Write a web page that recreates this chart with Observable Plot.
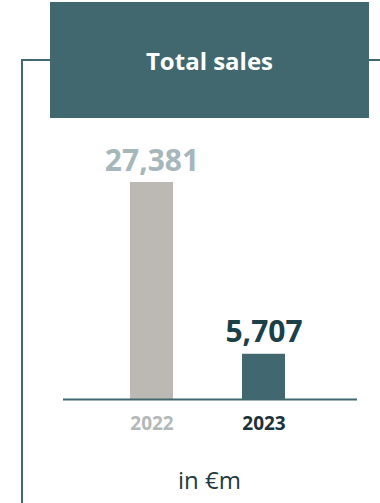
<!DOCTYPE html>
<html>
<head>
<meta charset="utf-8">
<script src="https://cdn.jsdelivr.net/npm/d3@7"></script>
<script src="https://cdn.jsdelivr.net/npm/@observablehq/plot@0.6"></script>
<style>
  html, body { margin: 0; padding: 0; background: #fff; }
  #wrap { position: relative; width: 380px; height: 503px; overflow: hidden; font-family: "Open Sans", sans-serif; }
  #header { position: absolute; left: 50px; top: 2px; width: 319px; height: 116px; background: #41686e;
            color: #fff; font-weight: 700; font-size: 24px; display: flex; align-items: center; justify-content: center; z-index: 2; }
  .ln { position: absolute; background: #41686e; z-index: 1; }
  #chart { position: absolute; left: 0; top: 0; }
</style>
</head>
<body>
<div id="wrap">
  <div class="ln" style="left:21px; top:59px; width:29px; height:1.5px;"></div>
  <div class="ln" style="left:21px; top:59px; width:1.5px; height:444px;"></div>
  <div class="ln" style="left:369px; top:59px; width:11px; height:1.5px;"></div>
  <div id="header">Total sales</div>
  <div id="chart"></div>
</div>
<script>
const years = ["2022", "2023"];
const sales = [27381, 5707];
const unitLabel = "in €m";

const data = years.map((y, i) => ({year: y, value: sales[i]}));
const fmt = d3.format(",");

const plot = Plot.plot({
  width: 380,
  height: 503,
  marginTop: 182,
  marginBottom: 104,
  marginLeft: 63,
  marginRight: 23,
  style: {fontFamily: "'Open Sans', sans-serif", background: "transparent", overflow: "visible"},
  x: {domain: years, paddingInner: 0.62, paddingOuter: 0.617, align: 0.48, axis: null},
  y: {domain: [0, 27381], axis: null},
  marks: [
    Plot.barY(data, {x: "year", y: "value", fill: d => d.year === "2022" ? "#bcb8b3" : "#41686e"}),
    Plot.ruleY([0], {stroke: "#41686e", strokeWidth: 2}),
    Plot.text(data, {x: "year", y: "value", text: d => fmt(d.value), lineAnchor: "bottom", dy: -12,
      fontSize: 30, fontWeight: 700, fill: d => d.year === "2022" ? "#a6b7bb" : "#1c4048"}),
    Plot.text(data, {x: "year", y: 0, text: "year", lineAnchor: "bottom", dy: 30,
      fontSize: 19, fontWeight: 700, fill: d => d.year === "2022" ? "#b3b8b8" : "#1d3139"}),
    Plot.text([unitLabel], {frameAnchor: "bottom", text: d => d, lineAnchor: "bottom", dy: 89, dx: -1,
      fontSize: 24, fontWeight: 500, fill: "#1f3a42"})
  ]
});
document.getElementById("chart").appendChild(plot);
</script>
</body>
</html>
